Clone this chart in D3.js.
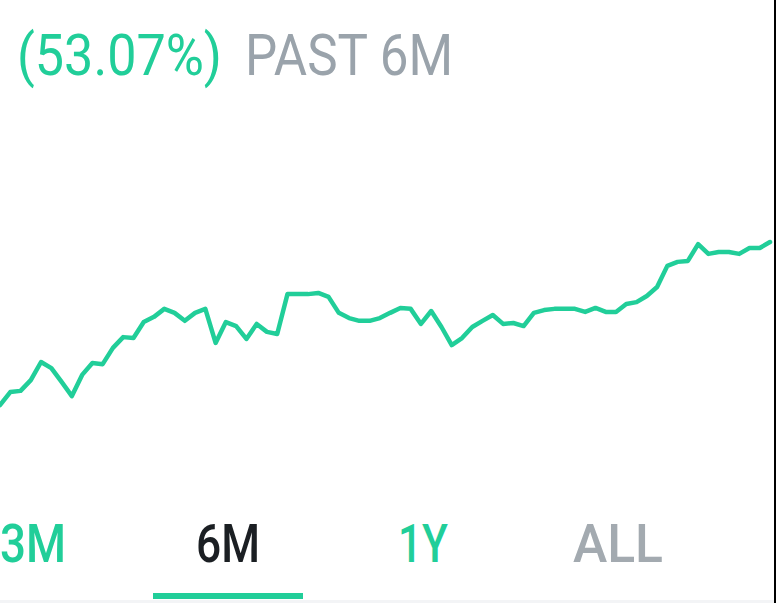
<!DOCTYPE html>
<html>
<head>
<meta charset="utf-8">
<script src="https://cdn.jsdelivr.net/npm/d3@7"></script>
<style>
  html, body { margin: 0; padding: 0; background: #ffffff; }
  svg { display: block; }
</style>
</head>
<body>
<svg id="chart" width="776" height="603"></svg>
<script>
// ---- data ----
const values = [
  100.0, 104.2, 104.6, 108.1, 114.0, 112.0, 107.5, 102.9, 109.8, 113.7,
  113.3, 118.6, 122.1, 121.8, 127.0, 128.7, 131.3, 130.0, 127.4, 130.0,
  131.3, 120.2, 127.0, 125.7, 121.5, 126.4, 123.8, 123.1, 136.1, 136.1,
  136.1, 136.5, 135.2, 130.0, 128.3, 127.4, 127.4, 128.3, 130.0, 131.6,
  131.3, 126.4, 130.6, 125.4, 119.5, 121.8, 125.4, 127.4, 129.3, 126.4,
  126.7, 125.7, 130.0, 130.9, 131.3, 131.3, 131.3, 130.3, 131.6, 130.3,
  130.3, 132.9, 133.5, 135.5, 138.4, 145.3, 146.6, 146.9, 152.4, 149.2,
  149.8, 149.8, 149.2, 151.1, 151.1, 153.07
];
const changeLabel = "(53.07%)";
const periodLabel = "PAST 6M";
const tabs = ["3M", "6M", "1Y", "ALL"];
const tabStates = ["link", "active", "link", "muted"];

// ---- styles ----
const GREEN = "#21ce99";
const GRAY = "#9aa3ab";
const FONT = "Roboto, 'Noto Sans', sans-serif";

const svg = d3.select("#chart");
const W = 776, H = 603;

svg.append("rect").attr("width", W).attr("height", H).attr("fill", "#ffffff");
// bottom separator band
svg.append("rect").attr("x", 0).attr("y", 600).attr("width", W).attr("height", 3).attr("fill", "#f3f4f6");
// right edge dark strip
svg.append("rect").attr("x", 774).attr("y", 0).attr("width", 2).attr("height", H).attr("fill", "#000000");

// ---- header ----
svg.append("text")
  .attr("x", 17).attr("y", 75)
  .attr("font-family", FONT).attr("font-weight", 400)
  .attr("font-size", 57)
  .attr("fill", GREEN)
  .attr("textLength", 205).attr("lengthAdjust", "spacingAndGlyphs")
  .text(changeLabel);
svg.append("text")
  .attr("x", 245).attr("y", 75)
  .attr("font-family", FONT).attr("font-weight", 400)
  .attr("font-size", 57)
  .attr("fill", GRAY)
  .attr("textLength", 208).attr("lengthAdjust", "spacingAndGlyphs")
  .text(periodLabel);

// ---- line ----
const x = d3.scaleLinear().domain([0, values.length - 1]).range([0, 770]);
const y = d3.scaleLinear().domain([100, 153.07]).range([405, 242]);

const line = d3.line()
  .x((d, i) => x(i))
  .y(d => y(d))
  .curve(d3.curveLinear);

svg.append("path")
  .datum(values)
  .attr("d", line)
  .attr("fill", "none")
  .attr("stroke", GREEN)
  .attr("stroke-width", 4.5)
  .attr("stroke-linejoin", "round")
  .attr("stroke-linecap", "round");

// ---- tabs ----
const tabX = d3.scalePoint().domain(tabs).range([33, 618]);
const tabW = { "3M": 66, "6M": 64, "1Y": 50, "ALL": 90 };
const tabColor = { link: GREEN, active: "#1b1f23", muted: "#a3aab0" };

svg.selectAll("text.tab")
  .data(tabs)
  .join("text")
  .attr("class", "tab")
  .attr("x", d => tabX(d))
  .attr("y", 562)
  .attr("text-anchor", "middle")
  .attr("font-family", FONT).attr("font-weight", 500)
  .attr("font-size", 53)
  .attr("fill", (d, i) => tabColor[tabStates[i]])
  .attr("textLength", d => tabW[d]).attr("lengthAdjust", "spacingAndGlyphs")
  .text(d => d);

// active underline
const activeTab = tabs[tabStates.indexOf("active")];
svg.append("rect")
  .attr("x", tabX(activeTab) - 75)
  .attr("y", 593)
  .attr("width", 150)
  .attr("height", 6)
  .attr("fill", GREEN);
</script>
</body>
</html>
